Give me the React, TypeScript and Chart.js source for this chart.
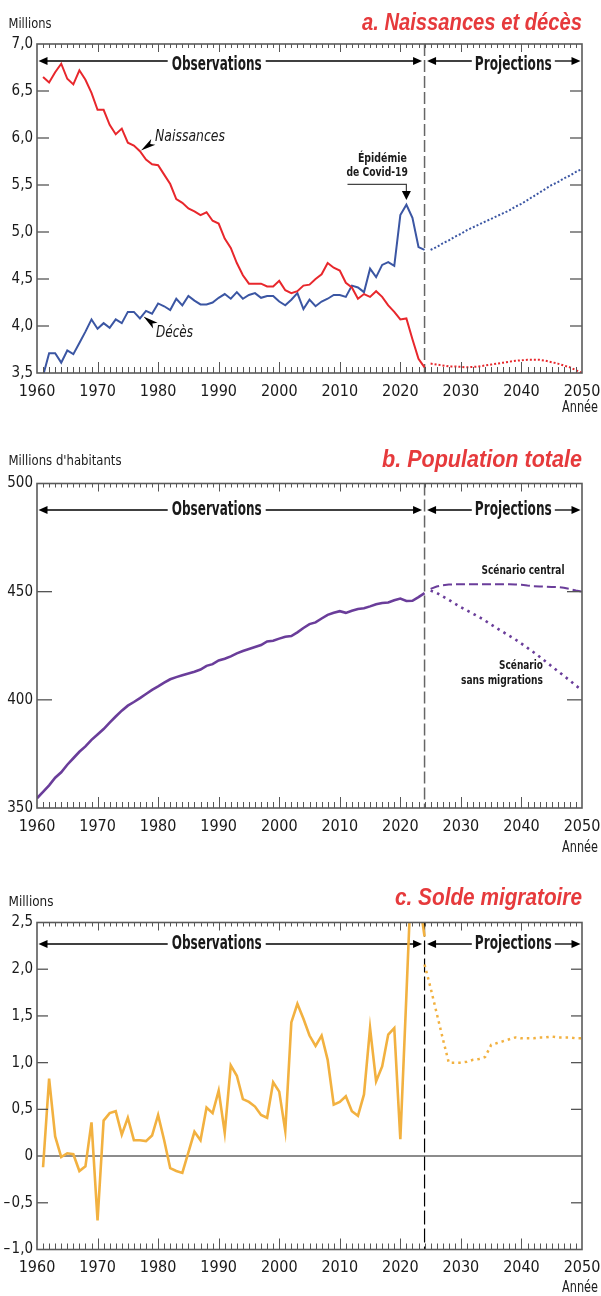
import React, { useEffect, useRef } from "react";
import { Chart, registerables } from "chart.js";
Chart.register(...registerables);

const FONT = '"Liberation Sans Narrow", "DejaVu Sans Condensed", "Roboto Condensed", "Liberation Sans", sans-serif';
const FONT_TITLE = '"Liberation Sans", "DejaVu Sans", sans-serif';
const TXT = "#1a1a1a";
const GRAY = "#555555";
const RED = "#e8272c";
const BLUE = "#3b56a3";
const PURPLE = "#6a3d9a";
const ORANGE = "#f2b140";
const TITLE_RED = "#e63a3c";

// ---------- Panel a : naissances et décès (millions) ----------
const birthsStart = 1961;
const births = [
  6.65, 6.59, 6.70, 6.79, 6.63, 6.57, 6.72, 6.62, 6.48, 6.30,
  6.30, 6.14, 6.04, 6.10, 5.95, 5.92, 5.86, 5.77, 5.72, 5.71,
  5.61, 5.51, 5.35, 5.31, 5.25, 5.22, 5.18, 5.21, 5.12, 5.09,
  4.93, 4.83, 4.67, 4.54, 4.45, 4.45, 4.45, 4.42, 4.42, 4.48,
  4.38, 4.35, 4.37, 4.43, 4.44, 4.50, 4.55, 4.67, 4.62, 4.59,
  4.46, 4.41, 4.29, 4.34, 4.31, 4.37, 4.31, 4.22, 4.15, 4.07,
  4.08, 3.86, 3.65, 3.56,
];
const deaths = [
  3.47, 3.71, 3.71, 3.61, 3.74, 3.70, 3.82, 3.94, 4.07, 3.97,
  4.03, 3.98, 4.07, 4.03, 4.15, 4.15, 4.08, 4.16, 4.13, 4.24,
  4.21, 4.17, 4.29, 4.22, 4.32, 4.27, 4.23, 4.23, 4.25, 4.30,
  4.34, 4.29, 4.36, 4.29, 4.33, 4.35, 4.30, 4.32, 4.32, 4.26,
  4.22, 4.28, 4.35, 4.18, 4.28, 4.21, 4.26, 4.29, 4.33, 4.33,
  4.31, 4.43, 4.41, 4.36, 4.61, 4.52, 4.65, 4.68, 4.64, 5.18,
  5.29, 5.15, 4.84, 4.81,
];
const projStart = 2025;
const birthsProj = [
  3.60, 3.59, 3.58, 3.57, 3.57, 3.565, 3.56, 3.565, 3.57, 3.58,
  3.59, 3.60, 3.61, 3.62, 3.63, 3.635, 3.64, 3.64, 3.64, 3.63,
  3.615, 3.60, 3.58, 3.56, 3.53, 3.50,
];
const deathsProj = [
  4.81, 4.84, 4.88, 4.91, 4.95, 4.98, 5.02, 5.05, 5.08, 5.11,
  5.14, 5.17, 5.20, 5.23, 5.27, 5.30, 5.34, 5.38, 5.42, 5.46,
  5.50, 5.53, 5.57, 5.60, 5.64, 5.67,
];

// ---------- Panel b : population totale (millions d'habitants) ----------
const popStart = 1960;
const population = [
  354.5, 357.5, 360.5, 364.0, 366.5, 370.0, 373.0, 376.0, 378.5, 381.5,
  384.0, 386.5, 389.5, 392.3, 395.0, 397.3, 399.0, 400.8, 402.7, 404.6,
  406.2, 407.9, 409.5, 410.5, 411.4, 412.2, 413.0, 414.0, 415.7, 416.5,
  418.2, 419.0, 420.1, 421.5, 422.6, 423.5, 424.4, 425.3, 427.0, 427.3,
  428.3, 429.2, 429.5, 431.2, 433.2, 435.0, 435.8, 437.6, 439.3, 440.3,
  441.0, 440.2, 441.2, 442.0, 442.3, 443.2, 444.2, 444.8, 445.0, 446.0,
  446.8, 445.7, 445.8, 447.5, 449.3,
];
const popCentral = [
  451.3, 452.4, 453.0, 453.3, 453.4, 453.4, 453.4, 453.4, 453.4, 453.4,
  453.4, 453.4, 453.4, 453.4, 453.3, 453.2, 452.8, 452.5, 452.4, 452.3,
  452.2, 452.1, 451.8, 451.2, 450.5, 450.0,
];
const popNoMigration = [
  450.5, 449.4, 447.8, 446.2, 444.5, 442.8, 441.3, 439.8, 438.3, 436.6,
  434.8, 433.0, 431.3, 429.6, 427.9, 426.0, 424.0, 422.0, 419.9, 417.7,
  415.5, 413.3, 411.1, 408.9, 406.6, 404.4,
];

// ---------- Panel c : solde migratoire (millions) ----------
const migStart = 1961;
const migration = [
  -0.12, 0.83, 0.21, -0.01, 0.03, 0.02, -0.16, -0.11, 0.36, -0.69,
  0.38, 0.46, 0.48, 0.23, 0.41, 0.17, 0.17, 0.16, 0.22, 0.44,
  0.17, -0.13, -0.16, -0.18, 0.04, 0.26, 0.17, 0.52, 0.46, 0.70,
  0.25, 0.97, 0.86, 0.61, 0.58, 0.53, 0.44, 0.41, 0.79, 0.69,
  0.27, 1.43, 1.63, 1.47, 1.29, 1.18, 1.29, 1.03, 0.55, 0.58,
  0.64, 0.48, 0.43, 0.66, 1.37, 0.80, 0.96, 1.30, 1.37, 0.18,
  1.72, 3.30, 2.80, 2.35,
];
const migProjStart = 2024;
const migrationProj = [
  2.05, 1.80, 1.53, 1.26, 1.00, 1.00, 1.00, 1.01, 1.03, 1.04,
  1.06, 1.19, 1.21, 1.23, 1.25, 1.27, 1.26, 1.26, 1.26, 1.27,
  1.27, 1.28, 1.27, 1.27, 1.27, 1.26, 1.26,
];

const xMin = 1960;
const xMax = 2050;
const xStep = 10;
const dividerYear = 2024;

const pts = (start: number, vals: number[]) => vals.map((v, i) => ({ x: start + i, y: v }));

const fmtComma = (v: number) => {
  if (Math.abs(v) < 1e-9) return "0";
  const s = Math.abs(v).toFixed(1).replace(".", ",");
  return v < 0 ? "–\u200A" + s : s;
};
const fmtInt = (v: number) => String(Math.round(v));

function drawText(
  ctx: CanvasRenderingContext2D, text: string, x: number, y: number, font: string,
  align: "left" | "right" | "center", width?: number, color: string = TXT
) {
  ctx.save();
  ctx.font = font;
  ctx.fillStyle = color;
  ctx.textBaseline = "middle";
  ctx.textAlign = "left";
  const w = ctx.measureText(text).width;
  const s = width ? width / w : 1;
  const left = align === "left" ? x : align === "right" ? x - w * s : x - (w * s) / 2;
  ctx.translate(left, y);
  ctx.scale(s, 1);
  ctx.fillText(text, 0, 0);
  ctx.restore();
}

function arrowHead(ctx: CanvasRenderingContext2D, fx: number, fy: number, tx: number, ty: number, L = 9, w = 4, notch = 1) {
  const dx = tx - fx, dy = ty - fy;
  const len = Math.hypot(dx, dy) || 1;
  const ux = dx / len, uy = dy / len;
  const nx = -uy, ny = ux;
  ctx.save();
  ctx.fillStyle = "#000";
  ctx.beginPath();
  ctx.moveTo(tx, ty);
  ctx.lineTo(tx - ux * L + nx * w, ty - uy * L + ny * w);
  ctx.lineTo(tx - ux * L * notch, ty - uy * L * notch);
  ctx.lineTo(tx - ux * L - nx * w, ty - uy * L - ny * w);
  ctx.closePath();
  ctx.fill();
  ctx.restore();
}

function line(ctx: CanvasRenderingContext2D, x1: number, y1: number, x2: number, y2: number) {
  ctx.beginPath();
  ctx.moveTo(x1, y1);
  ctx.lineTo(x2, y2);
  ctx.stroke();
}

type Panel = {
  key: string; height: number; top: number; xAxisH: number;
  yMin: number; yMax: number; yStep: number; yTickLen: number; yFmt: (v: number) => string;
  title: string; titleY: number; titleW: number;
  unit: string; unitY: number; unitW: number;
  arrowY: number; arrowTextY: number; anneeY: number;
  dividerColor: string; dividerDash: number[]; dividerW: number;
  zeroLine: boolean;
  datasets: any[];
  extras?: (ctx: CanvasRenderingContext2D, chart: any) => void;
};

function panelPlugin(p: Panel) {
  return {
    id: "panel" + p.key,
    beforeDatasetsDraw(chart: any) {
      const ctx: CanvasRenderingContext2D = chart.ctx;
      const { left, right, top, bottom } = chart.chartArea;
      const xs = chart.scales.x, ys = chart.scales.y;
      const divX = xs.getPixelForValue(dividerYear);
      ctx.save();
      if (p.zeroLine) {
        ctx.strokeStyle = "#666";
        ctx.lineWidth = 1.5;
        const y0 = ys.getPixelForValue(0);
        line(ctx, left, y0, right, y0);
      }
      // divider
      ctx.strokeStyle = p.dividerColor;
      ctx.lineWidth = p.dividerW;
      ctx.setLineDash(p.dividerDash);
      line(ctx, divX, top, divX, bottom);
      ctx.setLineDash([]);
      // arrows
      const ay = p.arrowY;
      const obsC = 216.7, obsW = 90, projC = 513.3, projW = 77;
      ctx.strokeStyle = "#000";
      ctx.lineWidth = 1.3;
      const oL = left + 1.5, oR = divX - 2.5, pL = divX + 2.5, pR = right - 1.5;
      line(ctx, oL + 4, ay, obsC - obsW / 2 - 4, ay);
      line(ctx, obsC + obsW / 2 + 4, ay, oR - 4, ay);
      line(ctx, pL + 4, ay, projC - projW / 2 - 3, ay);
      line(ctx, projC + projW / 2 + 3, ay, pR - 4, ay);
      arrowHead(ctx, oL + 10, ay, oL, ay, 9, 4);
      arrowHead(ctx, oR - 10, ay, oR, ay, 9, 4);
      arrowHead(ctx, pL + 10, ay, pL, ay, 9, 4);
      arrowHead(ctx, pR - 10, ay, pR, ay, 9, 4);
      const bf = "bold 20px " + FONT;
      drawText(ctx, "Observations", obsC, p.arrowTextY, bf, "center", obsW);
      drawText(ctx, "Projections", projC, p.arrowTextY, bf, "center", projW);
      ctx.restore();
    },
    afterDatasetsDraw(chart: any) {
      const ctx: CanvasRenderingContext2D = chart.ctx;
      const { left, right, top, bottom } = chart.chartArea;
      const xs = chart.scales.x, ys = chart.scales.y;
      ctx.save();
      ctx.strokeStyle = GRAY;
      ctx.lineWidth = 1;
      for (let yr = xMin + 1; yr < xMax; yr++) {
        const x = Math.round(xs.getPixelForValue(yr)) + 0.5;
        const major = yr % 10 === 0;
        line(ctx, x, top, x, top + (major ? 8 : 4));
        line(ctx, x, bottom, x, bottom - (major ? 11 : 6));
      }
      ctx.lineWidth = 1.3;
      for (let v = p.yMin + p.yStep; v < p.yMax - 1e-9; v += p.yStep) {
        if (p.zeroLine && Math.abs(v) < 1e-9) continue;
        const y = ys.getPixelForValue(v);
        line(ctx, left, y, left + p.yTickLen, y);
        line(ctx, right, y, right - p.yTickLen, y);
      }
      ctx.lineWidth = 1.6;
      ctx.strokeStyle = "#5a5a5a";
      ctx.strokeRect(left, top, right - left, bottom - top);
      ctx.restore();

      drawText(ctx, p.title, right, p.titleY, "italic bold 23px " + FONT_TITLE, "right", p.titleW, TITLE_RED);
      drawText(ctx, p.unit, 8.5, p.unitY, "14px " + FONT, "left", p.unitW);
      drawText(ctx, "Année", 598, p.anneeY, "15px " + FONT, "right", 36);
      if (p.extras) p.extras(ctx, chart);
    },
  };
}

function extrasA(ctx: CanvasRenderingContext2D, chart: any) {
  const xs = chart.scales.x;
  const it = "italic 15px " + FONT;
  drawText(ctx, "Naissances", 155, 137, it, "left", 70);
  arrowHead(ctx, 156, 140, 141, 150.5, 15, 3.6, 0.75);
  drawText(ctx, "Décès", 156, 333, it, "left", 37);
  arrowHead(ctx, 157, 327, 143.5, 316.5, 15, 3.6, 0.75);
  const bf = "bold 13px " + FONT;
  const cx = xs.getPixelForValue(2021);
  drawText(ctx, "Épidémie", cx + 0.5, 158.5, bf, "right", 49);
  drawText(ctx, "de Covid-19", cx + 1.5, 173, bf, "right", 61.5);
  ctx.save();
  ctx.strokeStyle = "#444";
  ctx.lineWidth = 1.2;
  ctx.beginPath();
  ctx.moveTo(347.5, 184.3);
  ctx.lineTo(cx, 184.3);
  ctx.lineTo(cx, 193);
  ctx.stroke();
  ctx.restore();
  arrowHead(ctx, cx, 191, cx, 200, 9, 4.5);
}

function extrasB(ctx: CanvasRenderingContext2D) {
  const bf = "bold 13px " + FONT;
  drawText(ctx, "Scénario central", 523, 141, bf, "center", 83);
  drawText(ctx, "Scénario", 543, 236, bf, "right", 44);
  drawText(ctx, "sans migrations", 543, 250.5, bf, "right", 82);
}

const panelA: Panel = {
  key: "a", height: 430, top: 44, xAxisH: 57,
  yMin: 3.5, yMax: 7, yStep: 0.5, yTickLen: 12, yFmt: fmtComma,
  title: "a. Naissances et décès", titleY: 24, titleW: 220,
  unit: "Millions", unitY: 24, unitW: 43,
  arrowY: 61, arrowTextY: 65, anneeY: 408,
  dividerColor: "#666", dividerDash: [12, 4], dividerW: 1.5, zeroLine: false,
  datasets: [
    { data: pts(birthsStart, births), borderColor: RED, borderWidth: 2 },
    { data: pts(birthsStart, deaths), borderColor: BLUE, borderWidth: 2 },
    { data: pts(projStart, birthsProj), borderColor: RED, borderWidth: 2, borderDash: [2, 2] },
    { data: pts(projStart, deathsProj), borderColor: BLUE, borderWidth: 2, borderDash: [2, 2] },
  ],
  extras: extrasA,
};

const panelB: Panel = {
  key: "b", height: 440, top: 53.5, xAxisH: 62,
  yMin: 350, yMax: 500, yStep: 50, yTickLen: 15, yFmt: fmtInt,
  title: "b. Population totale", titleY: 30.5, titleW: 200,
  unit: "Millions d'habitants", unitY: 31.7, unitW: 113,
  arrowY: 80, arrowTextY: 80, anneeY: 418,
  dividerColor: "#666", dividerDash: [12, 4], dividerW: 1.5, zeroLine: false,
  datasets: [
    { data: pts(popStart, population), borderColor: PURPLE, borderWidth: 2.6 },
    { data: pts(projStart, popCentral), borderColor: PURPLE, borderWidth: 2, borderDash: [9, 4] },
    { data: pts(projStart, popNoMigration), borderColor: PURPLE, borderWidth: 2.6, borderDash: [2.5, 4.5] },
  ],
  extras: extrasB,
};

const panelC: Panel = {
  key: "c", height: 426, top: 52.5, xAxisH: 46.5,
  yMin: -1, yMax: 2.5, yStep: 0.5, yTickLen: 11, yFmt: fmtComma,
  title: "c. Solde migratoire", titleY: 29, titleW: 187,
  unit: "Millions", unitY: 32.7, unitW: 45,
  arrowY: 74, arrowTextY: 74, anneeY: 418,
  dividerColor: "#000", dividerDash: [14, 4], dividerW: 1.2, zeroLine: true,
  datasets: [
    { data: pts(migStart, migration), borderColor: ORANGE, borderWidth: 2.6 },
    { data: pts(migProjStart, migrationProj), borderColor: ORANGE, borderWidth: 2.5, borderDash: [2.5, 4] },
  ],
};

function makeConfig(p: Panel): any {
  return {
    type: "line",
    data: {
      datasets: p.datasets.map((d) => ({ ...d, pointRadius: 0, tension: 0, fill: false })),
    },
    options: {
      responsive: false,
      maintainAspectRatio: false,
      animation: false,
      events: [],
      layout: { padding: { left: 0, right: 19, top: p.top, bottom: 0 } },
      plugins: { legend: { display: false }, tooltip: { enabled: false }, title: { display: false } },
      scales: {
        x: {
          type: "linear", min: xMin, max: xMax,
          grid: { display: false, drawTicks: false },
          border: { display: false },
          ticks: {
            stepSize: xStep, autoSkip: false, maxRotation: 0, padding: 9,
            font: { family: FONT, size: 16 }, color: TXT,
            callback: (v: number) => String(v),
          },
          afterFit: (s: any) => {
            s.height = p.xAxisH;
            s.paddingLeft = 0;
            s.paddingRight = 0;
          },
        },
        y: {
          type: "linear", min: p.yMin, max: p.yMax,
          grid: { display: false, drawTicks: false },
          border: { display: false },
          ticks: {
            stepSize: p.yStep, autoSkip: false, padding: 4,
            font: { family: FONT, size: 15 }, color: TXT,
            callback: (v: number) => p.yFmt(v),
          },
          afterFit: (s: any) => {
            s.width = 37;
            s.paddingTop = 0;
            s.paddingBottom = 0;
          },
        },
      },
    },
    plugins: [panelPlugin(p)],
  };
}

export default function App() {
  const refA = useRef<HTMLCanvasElement>(null);
  const refB = useRef<HTMLCanvasElement>(null);
  const refC = useRef<HTMLCanvasElement>(null);
  useEffect(() => {
    document.body.style.margin = "0";
    const charts = [
      new Chart(refA.current as HTMLCanvasElement, makeConfig(panelA)),
      new Chart(refB.current as HTMLCanvasElement, makeConfig(panelB)),
      new Chart(refC.current as HTMLCanvasElement, makeConfig(panelC)),
    ];
    return () => charts.forEach((c) => c.destroy());
  }, []);
  const cs = (h: number) => ({ display: "block", width: 601, height: h });
  return (
    <div style={{ width: 601, height: 1296, background: "#fff", overflow: "hidden" }}>
      <canvas ref={refA} width={601} height={panelA.height} style={cs(panelA.height)} />
      <canvas ref={refB} width={601} height={panelB.height} style={cs(panelB.height)} />
      <canvas ref={refC} width={601} height={panelC.height} style={cs(panelC.height)} />
    </div>
  );
}
